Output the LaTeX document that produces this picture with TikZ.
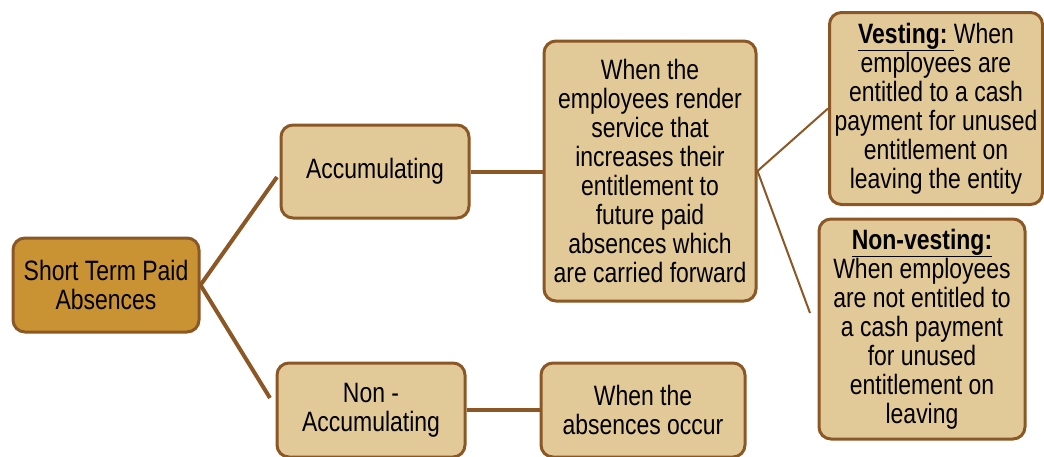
\documentclass[tikz,border=0pt]{standalone}
\usepackage{fontspec}
\setmainfont{Liberation Sans}[FakeStretch=0.82]
\definecolor{brd}{RGB}{139,87,37}
\definecolor{lt}{RGB}{226,201,152}
\definecolor{dk}{RGB}{201,147,52}
\begin{document}
\begin{tikzpicture}[x=1pt,y=-1pt,
  box/.style={draw=brd, line width=3pt, rounded corners=12pt, fill=lt, align=center,
    font=\fontsize{28}{29}\selectfont, inner sep=0pt},
  conn/.style={draw=brd, line width=4pt},
  thinconn/.style={draw=brd, line width=2pt}]
\useasboundingbox (0,0) rectangle (1044,456);
\clip (0,0) rectangle (1044,456);
\node[box, fill=dk, minimum width=186, minimum height=94] (root) at (106,285) {Short Term Paid\\Absences};
\node[box, minimum width=188, minimum height=93] (acc) at (375,171.5) {Accumulating};
\node[box, minimum width=188, minimum height=94] (nonacc) at (371,410) {Non -\\Accumulating};
\node[box, minimum width=212, minimum height=260] (mid) at (650,171) {When the\\employees render\\service that\\increases their\\entitlement to\\future paid\\absences which\\are carried forward};
\node[box, minimum width=204, minimum height=94] (bot) at (643,410) {When the\\absences occur};
\node[box, minimum width=213, minimum height=192] (vest) at (936,108.5) {\underline{\textbf{Vesting:}\ }When\\employees are\\entitled to a cash\\payment for unused\\entitlement on\\leaving the entity};
\node[box, minimum width=206, minimum height=220] (nonvest) at (922,329) {\underline{\textbf{Non-vesting:}}\\When employees\\are not entitled to\\a cash payment\\for unused\\entitlement on\\leaving};
\coordinate (accin) at (277,177);
\coordinate (nonaccin) at (270,398);
\coordinate (nvin) at (810,313);
\draw[conn] (root.east) -- (accin);
\draw[conn] (root.east) -- (nonaccin);
\draw[conn] (acc.east) -- (mid.west |- acc.east);
\draw[conn] (nonacc.east) -- (bot.west);
\draw[thinconn] (mid.east) -- (vest.west);
\draw[thinconn] (mid.east) -- (nvin);
\end{tikzpicture}
\end{document}
